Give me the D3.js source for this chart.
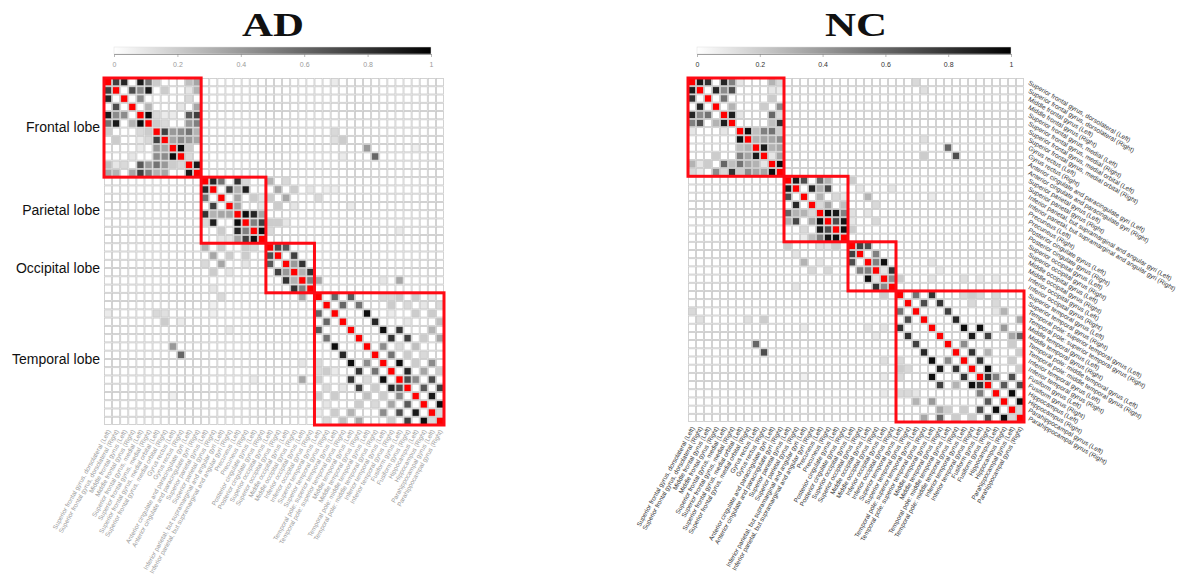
<!DOCTYPE html>
<html>
<head>
<meta charset="utf-8">
<script src="https://cdn.jsdelivr.net/npm/d3@7"></script>
<style>
  body { margin: 0; background: #fff; }
  svg { display: block; }
</style>
</head>
<body>
<div id="chart_parent"></div>
<script>
// brain regions (AAL order, 42 ROIs)
const regions = [
    'Superior frontal gyrus, dorsolateral (Left)', 'Superior frontal gyrus, dorsolateral (Right)',
    'Middle frontal gyrus (Left)', 'Middle frontal gyrus (Right)',
    'Superior frontal gyrus, medial (Left)', 'Superior frontal gyrus, medial (Right)',
    'Superior frontal gyrus, medial orbital (Left)', 'Superior frontal gyrus, medial orbital (Right)',
    'Gyrus rectus (Left)', 'Gyrus rectus (Right)',
    'Anterior cingulate and paracingulate gyri (Left)', 'Anterior cingulate and paracingulate gyri (Right)',
    'Superior parietal gyrus (Left)', 'Superior parietal gyrus (Right)',
    'Inferior parietal, but supramarginal and angular gyri (Left)', 'Inferior parietal, but supramarginal and angular gyri (Right)',
    'Precuneus (Left)', 'Precuneus (Right)',
    'Posterior cingulate gyrus (Left)', 'Posterior cingulate gyrus (Right)',
    'Superior occipital gyrus (Left)', 'Superior occipital gyrus (Right)',
    'Middle occipital gyrus (Left)', 'Middle occipital gyrus (Right)',
    'Inferior occipital gyrus (Left)', 'Inferior occipital gyrus (Right)',
    'Superior temporal gyrus (Left)', 'Superior temporal gyrus (Right)',
    'Temporal pole: superior temporal gyrus (Left)', 'Temporal pole: superior temporal gyrus (Right)',
    'Middle temporal gyrus (Left)', 'Middle temporal gyrus (Right)',
    'Temporal pole: middle temporal gyrus (Left)', 'Temporal pole: middle temporal gyrus (Right)',
    'Inferior temporal gyrus (Left)', 'Inferior temporal gyrus (Right)',
    'Fusiform gyrus (Left)', 'Fusiform gyrus (Right)',
    'Hippocampus (Left)', 'Hippocampus (Right)',
    'Parahippocampal gyrus (Left)', 'Parahippocampal gyrus (Right)',
];

const lobeNames = ['Frontal lobe', 'Parietal lobe', 'Occipital lobe', 'Temporal lobe'];
const lobeStarts = [0, 12, 20, 26];
const lobeSizes = [12, 8, 6, 16];

const colorbarTicks = [0, 0.2, 0.4, 0.6, 0.8, 1];
const colorbarTickLabels = ['0', '0.2', '0.4', '0.6', '0.8', '1'];

// upper triangle [row, col, value]; the matrix is symmetric, diagonal drawn red
const adLinks = [
    [0, 1, .75], [0, 2, .85], [0, 4, .9], [0, 5, .55], [0, 6, .2], [0, 10, .25], [0, 11, .35],
    [1, 3, .7], [1, 4, .45], [1, 5, .9], [1, 7, .2], [1, 10, .1], [1, 11, .3],
    [2, 4, .45], [2, 10, .15],
    [3, 5, .3], [3, 9, .1], [3, 11, .35],
    [4, 5, .95], [4, 6, .15], [4, 7, .08], [4, 8, .08], [4, 10, .65], [4, 11, .75],
    [5, 6, .2], [5, 7, .15], [5, 10, .4], [5, 11, .5],
    [6, 7, .75], [6, 8, .4], [6, 9, .45], [6, 10, .55], [6, 11, .3],
    [7, 8, .35], [7, 9, .45], [7, 10, .4], [7, 11, .35],
    [8, 9, .95], [8, 10, .2],
    [9, 10, .15],
    [10, 11, .9],
    [0, 28, .08], [6, 28, .15], [7, 28, .12], [7, 29, .2], [9, 29, .08], [8, 32, .4], [9, 33, .6], [8, 38, .06],
    [12, 13, .85], [12, 14, .55], [12, 16, .8], [12, 17, .15],
    [13, 15, .75], [13, 16, .3], [13, 17, .88],
    [14, 16, .35], [14, 18, .2], [14, 19, .1],
    [15, 16, .35], [15, 19, .1],
    [16, 17, .95], [16, 18, .85], [16, 19, .35],
    [17, 18, .5], [17, 19, .75],
    [18, 19, .95],
    [12, 20, .3], [12, 22, .15], [13, 21, .35], [13, 23, .2], [13, 25, .1], [13, 27, .06], [13, 28, .06],
    [14, 20, .2], [14, 22, .35], [14, 26, .15], [15, 21, .2], [15, 23, .1], [15, 30, .08],
    [17, 20, .2], [17, 21, .2], [17, 22, .1], [18, 20, .15], [18, 36, .08],
    [20, 21, .7], [20, 22, .65], [21, 23, .75], [22, 23, .4], [22, 24, .8], [23, 24, .3], [23, 25, .8], [24, 25, .5],
    [24, 26, .35], [24, 34, .1], [24, 36, .35],
    [26, 28, .6], [26, 30, .65], [26, 34, .15], [26, 35, .15], [26, 36, .2], [26, 38, .2], [26, 40, .08],
    [27, 29, .6], [27, 31, .55], [27, 35, .2], [27, 37, .15], [27, 39, .1], [27, 41, .15],
    [28, 32, .95], [28, 35, .08], [28, 38, .2], [28, 40, .2],
    [29, 33, .85], [29, 37, .1], [29, 41, .25],
    [30, 34, .95], [30, 36, .8], [30, 40, .3],
    [31, 35, .8], [31, 37, .75], [31, 39, .2], [31, 41, .35],
    [32, 34, .45], [32, 36, .15], [32, 38, .25],
    [33, 35, .55], [33, 37, .2], [33, 39, .15],
    [34, 36, .95], [34, 38, .2], [34, 40, .45],
    [35, 37, .85], [35, 39, .35], [35, 41, .2],
    [36, 37, .7], [36, 38, .45], [36, 40, .7],
    [37, 39, .65], [37, 41, .75],
    [38, 40, .9],
    [39, 41, .95],
    [40, 41, .15],
];

const ncLinks = [
    [0, 1, .9], [0, 2, .8], [0, 4, .85], [0, 5, .5], [0, 6, .1], [0, 10, .3], [0, 11, .15],
    [1, 3, .85], [1, 4, .45], [1, 5, .7], [1, 10, .1], [1, 11, .08],
    [2, 4, .55], [2, 10, .2],
    [3, 5, .3], [3, 9, .2], [3, 11, .45],
    [4, 5, .88], [4, 6, .1], [4, 10, .6], [4, 11, .15],
    [5, 10, .25], [5, 11, .8],
    [6, 7, .95], [6, 8, .25], [6, 9, .5], [6, 10, .55], [6, 11, .2],
    [7, 8, .3], [7, 9, .35], [7, 10, .35], [7, 11, .45],
    [8, 9, .9], [8, 10, .3], [8, 11, .35],
    [9, 10, .1], [9, 11, .35],
    [10, 11, .95],
    [0, 28, .15], [1, 29, .12], [7, 29, .12], [9, 29, .2], [8, 32, .6], [9, 33, .7],
    [12, 13, .9], [12, 14, .7], [12, 16, .6], [12, 17, .3],
    [13, 15, .85], [13, 16, .3], [13, 17, .72],
    [14, 16, .3], [14, 18, .15], [14, 19, .08],
    [15, 16, .15], [15, 17, .35], [15, 19, .25],
    [16, 17, .95], [16, 18, .9], [16, 19, .5],
    [17, 18, .7], [17, 19, .92],
    [18, 19, .95],
    [12, 20, .2], [13, 21, .1], [14, 22, .3], [15, 23, .15], [16, 20, .12], [16, 22, .1],
    [17, 20, .1], [17, 23, .15], [18, 20, .2], [13, 25, .1], [14, 30, .08], [14, 36, .06],
    [20, 21, .75], [20, 22, .7], [21, 23, .5], [22, 23, .5], [22, 24, .95], [23, 24, .1], [23, 25, .8], [24, 25, .45],
    [24, 26, .2], [24, 30, .1], [24, 34, .12], [22, 30, .1], [23, 31, .08], [24, 36, .08], [24, 38, .08],
    [26, 28, .55], [26, 30, .8], [26, 34, .15], [26, 35, .2], [26, 36, .15], [26, 38, .15],
    [27, 29, .7], [27, 31, .8], [27, 35, .15], [27, 38, .15],
    [28, 32, .75], [28, 38, .1], [28, 39, .3],
    [29, 33, .85], [29, 41, .35],
    [30, 34, .95], [30, 36, .95], [30, 39, .4],
    [31, 35, .9], [31, 37, .75], [31, 40, .35], [31, 41, .6],
    [32, 34, .45], [32, 40, .2],
    [33, 35, .8], [33, 37, .3], [33, 41, .2],
    [34, 36, .8], [34, 40, .2],
    [35, 37, .95], [35, 41, .2],
    [36, 37, .8], [36, 38, .5], [36, 40, .7],
    [37, 39, .65], [37, 41, .7],
    [38, 40, .95],
    [39, 41, .95],
    [40, 41, .15],
];

const panels = [
    {
        title: 'AD', links: adLinks, titleX: 273,
        left: 104, top: 78, width: 340, height: 347,
        barLeft: 114, barRight: 431, textColour: '#9a9a9a',
        lobeLabels: true, rightLabels: false,
    },
    {
        title: 'NC', links: ncLinks, titleX: 856,
        left: 688, top: 78, width: 336, height: 344,
        barLeft: 697, barRight: 1011, textColour: '#333',
        lobeLabels: false, rightLabels: true,
    },
];

const labelFont = '"Liberation Sans", Arial, sans-serif';

const svg = d3.select('#chart_parent').append('svg')
    .attr('width', 1177)
    .attr('height', 580);

const greyScale = d3.scaleLinear().domain([0, 1]).range(['#ffffff', '#000000']);

// gradient for the colour bars
const grad = svg.append('defs').append('linearGradient')
    .attr('id', 'greyGrad');
grad.append('stop').attr('offset', '0%').attr('stop-color', greyScale(0));
grad.append('stop').attr('offset', '100%').attr('stop-color', greyScale(1));

function buildMatrix(links) {
    const n = regions.length;
    const m = d3.range(n).map(() => new Array(n).fill(0));
    links.forEach(([i, j, v]) => {
        m[i][j] = v;
        m[j][i] = v;
    });
    const cells = [];
    for (let i = 0; i < n; i++) {
        for (let j = 0; j < n; j++) {
            cells.push({ row: i, col: j, value: m[i][j] });
        }
    }
    return cells;
}

function drawPanel(p) {
    const g = svg.append('g');
    const idx = d3.range(regions.length);

    const x = d3.scaleBand().domain(idx).range([p.left, p.left + p.width]);
    const y = d3.scaleBand().domain(idx).range([p.top, p.top + p.height]);

    g.append('text')
        .attr('x', p.titleX)
        .attr('y', 36)
        .attr('text-anchor', 'middle')
        .attr('textLength', 62)
        .attr('lengthAdjust', 'spacingAndGlyphs')
        .style('font-family', '"Liberation Serif", "DejaVu Serif", serif')
        .style('font-weight', 'bold')
        .style('font-size', '33px')
        .attr('fill', '#111')
        .text(p.title);

    // colour bar
    const barScale = d3.scaleLinear().domain([0, 1]).range([p.barLeft, p.barRight]);
    g.append('rect')
        .attr('x', p.barLeft)
        .attr('y', 47)
        .attr('width', p.barRight - p.barLeft)
        .attr('height', 7)
        .attr('fill', 'url(#greyGrad)')
        .attr('stroke', '#ddd')
        .attr('stroke-width', 0.5);
    const barAxis = g.append('g')
        .attr('transform', 'translate(0,54)')
        .call(d3.axisBottom(barScale)
            .tickValues(colorbarTicks)
            .tickFormat((d, i) => colorbarTickLabels[i])
            .tickSize(3)
            .tickSizeOuter(0));
    barAxis.select('.domain').attr('stroke', '#888').attr('stroke-width', 0.8);
    barAxis.selectAll('.tick line').attr('stroke', '#888').attr('stroke-width', 0.6);
    barAxis.selectAll('.tick text')
        .attr('y', 8)
        .attr('fill', p.textColour)
        .style('font-family', labelFont)
        .style('font-size', '7px');

    // cells
    const cells = buildMatrix(p.links);
    g.append('g').selectAll('rect')
        .data(cells)
        .join('rect')
        .attr('x', d => x(d.col) + 0.5)
        .attr('y', d => y(d.row) + 0.5)
        .attr('width', x.bandwidth() - 1)
        .attr('height', y.bandwidth() - 1)
        .attr('fill', d => (d.row === d.col ? '#ff0000' : greyScale(d.value)))
        .attr('stroke', '#c8c8c8')
        .attr('stroke-width', 0.8);

    const lobes = lobeStarts.map((s, k) => ({ start: s, size: lobeSizes[k], name: lobeNames[k] }));

    // lobe frames
    g.append('g').selectAll('rect')
        .data(lobes)
        .join('rect')
        .attr('x', d => x(d.start))
        .attr('y', d => y(d.start))
        .attr('width', d => x.bandwidth() * d.size)
        .attr('height', d => y.bandwidth() * d.size)
        .attr('fill', 'none')
        .attr('stroke', '#ff0a14')
        .attr('stroke-width', 3);

    if (p.lobeLabels) {
        g.append('g').selectAll('text')
            .data(lobes)
            .join('text')
            .attr('x', p.left - 4)
            .attr('y', d => y(d.start) + y.bandwidth() * d.size / 2)
            .attr('dy', '0.35em')
            .attr('text-anchor', 'end')
            .attr('fill', '#111')
            .style('font-family', labelFont)
            .style('font-size', '14px')
            .text(d => d.name);
    }

    // bottom region labels
    g.append('g').selectAll('text')
        .data(idx)
        .join('text')
        .attr('transform', d => `translate(${x(d) + x.bandwidth() / 2 + 1},${p.top + p.height + 5}) rotate(-61)`)
        .attr('dy', '0.35em')
        .attr('text-anchor', 'end')
        .attr('fill', p.textColour)
        .style('font-family', labelFont)
        .style('font-size', '6.3px')
        .text(d => regions[d]);

    if (p.rightLabels) {
        g.append('g').selectAll('text')
            .data(idx)
            .join('text')
            .attr('transform', d => `translate(${p.left + p.width + 5},${y(d) + y.bandwidth() / 2}) rotate(30)`)
            .attr('dy', '0.35em')
            .attr('text-anchor', 'start')
            .attr('fill', p.textColour)
            .style('font-family', labelFont)
            .style('font-size', '6.5px')
            .text(d => regions[d]);
    }
}

panels.forEach(drawPanel);
</script>
</body>
</html>
